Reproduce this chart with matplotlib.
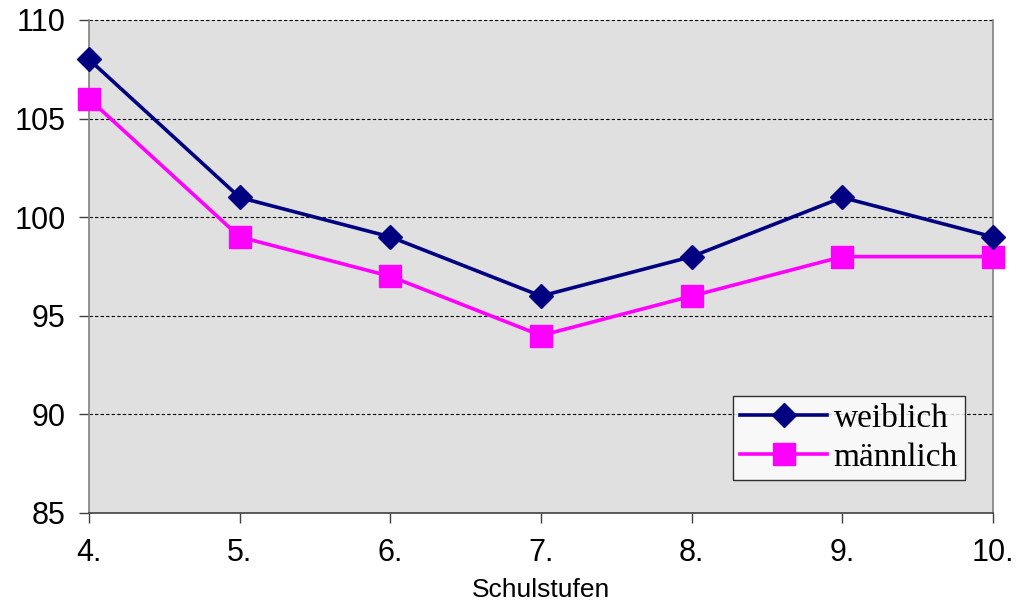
import matplotlib
matplotlib.use("Agg")
import matplotlib.pyplot as plt

categories = ["4.", "5.", "6.", "7.", "8.", "9.", "10."]
weiblich = [108, 101, 99, 96, 98, 101, 99]
maennlich = [106, 99, 97, 94, 96, 98, 98]
yticks = [85, 90, 95, 100, 105, 110]

fig = plt.figure(figsize=(10.21, 6.04), dpi=100)
ax = fig.add_axes([0.0872, 0.1507, 0.9726 - 0.0872, 0.9669 - 0.1507])
ax.set_facecolor("#e0e0e0")

x = list(range(len(categories)))
ax.plot(x, weiblich, color="#000080", lw=2.6, marker="D", markersize=12,
        label="weiblich", zorder=4)
ax.plot(x, maennlich, color="#ff00ff", lw=2.6, marker="s", markersize=16,
        label="männlich", zorder=3)

ax.set_xlim(0, len(categories) - 1)
ax.set_ylim(85, 110)
ax.set_yticks(yticks)
ax.set_xticks(x)
ax.set_xticklabels(categories)
for y in yticks[1:]:
    ax.axhline(y, color="black", lw=0.8, ls=(0, (3, 2)), zorder=1)

for s in ["left", "bottom", "right"]:
    ax.spines[s].set_color("#808080")
    ax.spines[s].set_linewidth(1.2)
ax.spines["top"].set_visible(False)
ax.spines["bottom"].set_color("#404040")

ax.tick_params(axis="both", direction="out", length=7, width=1, color="#404040",
               labelsize=22)
ax.tick_params(axis="x", pad=11)
ax.tick_params(axis="y", pad=10)
for lab in ax.get_xticklabels() + ax.get_yticklabels():
    lab.set_family(["Liberation Sans", "DejaVu Sans"])
for line in ax.get_lines():
    line.set_clip_on(False)

ax.set_xlabel("Schulstufen", fontsize=19, family=["Liberation Sans", "DejaVu Sans"],
              labelpad=7)

leg = ax.legend(loc="lower right", bbox_to_anchor=(0.969, 0.067),
                prop={"family": ["Liberation Serif", "DejaVu Serif"], "size": 24},
                frameon=True, fancybox=False, handlelength=2.6, borderpad=0.22,
                labelspacing=0.25, handletextpad=0.2, borderaxespad=0)
leg.get_frame().set_edgecolor("black")
leg.get_frame().set_linewidth(1.0)
leg.get_frame().set_facecolor("white")

fig.savefig("out.png", dpi=100)
